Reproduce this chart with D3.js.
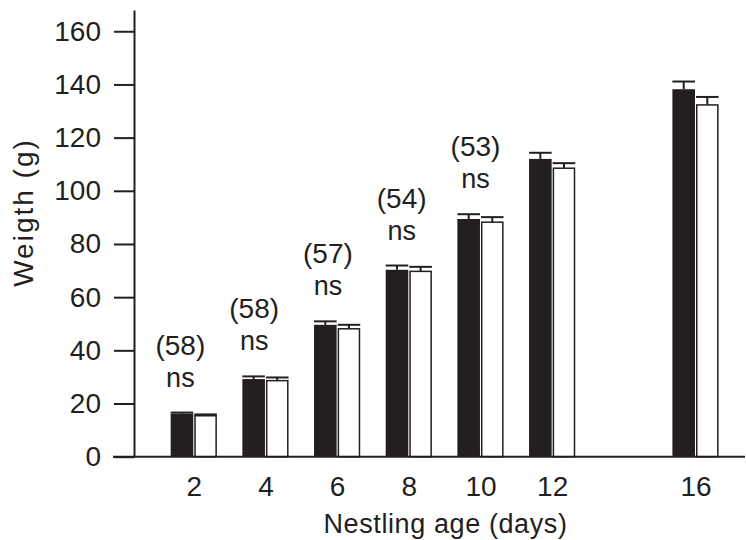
<!DOCTYPE html>
<html>
<head>
<meta charset="utf-8">
<script src="https://cdn.jsdelivr.net/npm/d3@7"></script>
<style>
  html, body { margin: 0; padding: 0; background: #fff; }
  svg { display: block; font-family: "Liberation Sans", Arial, Helvetica, sans-serif; }
</style>
</head>
<body>
<svg id="chart" width="746" height="540"></svg>
<script>
// ---- data ----
const days = [2, 4, 6, 8, 10, 12, 16];
const blackMeans = [16.2, 29.2, 49.6, 70.3, 89.4, 112.0, 138.2];
const blackSE    = [0.4, 1.0, 1.3, 1.6, 1.8, 2.3, 2.9];
const whiteMeans = [15.4, 28.6, 48.1, 69.7, 88.2, 108.5, 132.3];
const whiteSE    = [0.5, 1.2, 1.5, 1.7, 1.9, 1.9, 3.0];
const annDays   = [2, 4, 6, 8, 10];
const annCounts = ["(58)", "(58)", "(57)", "(54)", "(53)"];
const annSig    = ["ns", "ns", "ns", "ns", "ns"];
const yTicks = [0, 20, 40, 60, 80, 100, 120, 140, 160];
const xLabel = "Nestling age (days)";
const yLabel = "Weigth (g)";

// ---- layout ----
const svg = d3.select("#chart");
const ink = "#231f20";
const ff = "Liberation Sans, Arial, sans-serif";
const x = d3.scaleLinear().domain([0, 16]).range([122.1, 695.5]);
const y = d3.scaleLinear().domain([0, 168]).range([456.7, 10]);
const barW = 22.6;

// bars
const g = svg.append("g");
days.forEach((d, i) => {
  const cx = x(d);
  g.append("rect")
    .attr("x", cx - 0.5 - barW).attr("y", y(blackMeans[i]))
    .attr("width", barW).attr("height", y(0) - y(blackMeans[i]))
    .attr("fill", ink);
  g.append("rect")
    .attr("x", cx + 1.25).attr("y", y(whiteMeans[i]))
    .attr("width", barW - 1.5).attr("height", y(0) - y(whiteMeans[i]))
    .attr("fill", "#fff").attr("stroke", ink).attr("stroke-width", 1.5);
  [[cx - 0.5 - barW / 2, blackMeans[i], blackSE[i]],
   [cx + 0.5 + barW / 2, whiteMeans[i], whiteSE[i]]].forEach(([ex, m, se]) => {
    g.append("line")
      .attr("x1", ex).attr("x2", ex)
      .attr("y1", y(m)).attr("y2", y(m + se))
      .attr("stroke", ink).attr("stroke-width", 2);
    g.append("line")
      .attr("x1", ex - barW / 2).attr("x2", ex + barW / 2)
      .attr("y1", y(m + se)).attr("y2", y(m + se))
      .attr("stroke", ink).attr("stroke-width", 2);
  });
});

// annotations
annDays.forEach((d, i) => {
  const idx = days.indexOf(d);
  const top = y(Math.max(blackMeans[idx] + blackSE[idx], whiteMeans[idx] + whiteSE[idx]));
  const ax = x(d) - 15.5 + 1.05 * d;
  const nsY = top - 26;
  svg.append("text").attr("x", ax).attr("y", nsY)
    .attr("text-anchor", "middle").attr("font-size", 27).attr("fill", ink)
    .text(annSig[i]);
  svg.append("text").attr("x", ax).attr("y", nsY - 32)
    .attr("text-anchor", "middle").attr("font-size", 28).attr("fill", ink)
    .text(annCounts[i]);
});

// y axis
const yAxis = d3.axisLeft(y).tickValues(yTicks).tickSize(20).tickSizeOuter(0).tickPadding(13);
const yg = svg.append("g").attr("transform", "translate(134,0)").call(yAxis);
yg.select(".domain").attr("stroke", ink).attr("stroke-width", 2);
yg.selectAll(".tick line").attr("stroke", ink).attr("stroke-width", 2);
yg.selectAll(".tick text").attr("font-size", 28).attr("fill", ink).attr("font-family", ff);

// x axis (labels only, no ticks) + baseline
const xAxis = d3.axisBottom(x).tickValues(days).tickSize(0).tickPadding(19);
const xg = svg.append("g").attr("transform", `translate(0,${y(0)})`).call(xAxis);
xg.select(".domain").remove();
xg.selectAll(".tick text").attr("font-size", 28).attr("fill", ink).attr("font-family", ff);
svg.append("line")
  .attr("x1", 113).attr("x2", 745)
  .attr("y1", y(0)).attr("y2", y(0))
  .attr("stroke", ink).attr("stroke-width", 2);

// axis titles
svg.append("text")
  .attr("x", 445.5).attr("y", 533)
  .attr("text-anchor", "middle").attr("font-size", 27).attr("letter-spacing", 0.6)
  .attr("fill", ink).text(xLabel);
svg.append("text")
  .attr("transform", "translate(33,212.5) rotate(-90)")
  .attr("text-anchor", "middle").attr("font-size", 28).attr("letter-spacing", 2)
  .attr("fill", ink).text(yLabel);
</script>
</body>
</html>
